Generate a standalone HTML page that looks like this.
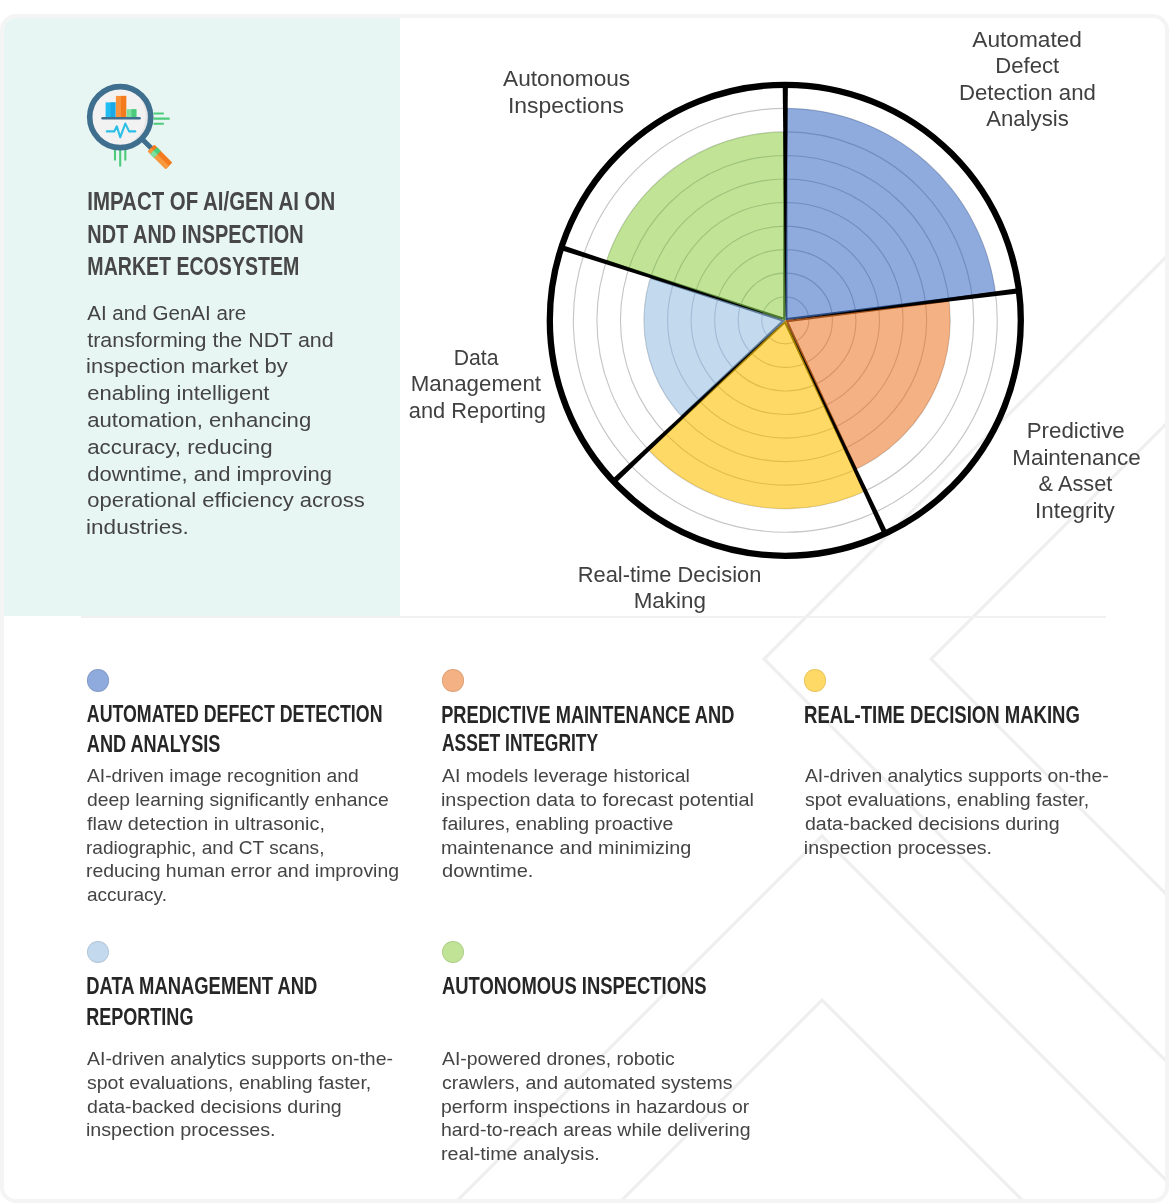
<!DOCTYPE html>
<html><head><meta charset="utf-8">
<style>
html,body{margin:0;padding:0;background:#fff;}
body{width:1170px;height:1203px;position:relative;overflow:hidden;font-family:"Liberation Sans",sans-serif;}
.card{position:absolute;left:0;top:14px;width:1161px;height:1181px;border:4px solid #f4f4f4;border-radius:16px;overflow:hidden;}
.teal{position:absolute;left:0;top:0;width:396px;height:598px;background:#e8f6f3;}
.sep{position:absolute;left:81px;top:616.3px;width:1025px;height:2.2px;background:#f1f1f1;}
.abs{position:absolute;white-space:nowrap;}
.lbl{position:absolute;color:#404040;font-size:21px;line-height:27px;text-align:center;white-space:nowrap;}
.title{position:absolute;left:87px;top:186px;color:#444;font-weight:bold;font-size:23px;line-height:33px;white-space:nowrap;}
.intro{position:absolute;left:87px;top:300px;color:#444;font-size:19.5px;line-height:26.9px;white-space:nowrap;}
.dot{position:absolute;width:22.4px;height:22.4px;border-radius:50%;box-shadow:inset 0 0 0 0.9px rgba(0,0,0,0.09);}
.h{position:absolute;color:#262626;font-weight:bold;font-size:21px;line-height:29.8px;white-space:nowrap;}
.b{position:absolute;color:#444;font-size:17px;line-height:23.9px;white-space:nowrap;}
</style></head><body>
<div class="card">
  <div class="teal"></div>
</div>
<svg width="1170" height="1203" style="position:absolute;left:0;top:0">
  <defs><clipPath id="cc"><rect x="4" y="18" width="1161" height="1181" rx="12"/></clipPath></defs>
  <g clip-path="url(#cc)" fill="none" stroke="#efefef" stroke-width="3.2">
    <polyline points="1170,253 764,659 1170,1065"/>
    <polyline points="1170,420 931,659 1170,898"/>
    <polyline points="450,1208 822,836 1194,1208"/>
    <polyline points="614,1208 822,1000 1030,1208"/>
  </g>
</svg>
<div class="sep"></div>
<svg width="1170" height="1203" viewBox="0 0 1170 1203" style="position:absolute;left:0;top:0">
<defs>
<clipPath id="w0"><path d="M785.30,320.30 L995.58,293.74 A211.95,211.95 0 0 0 785.30,108.35 Z"/></clipPath>
<clipPath id="w1"><path d="M785.30,320.30 L855.23,469.58 A164.85,164.85 0 0 0 948.85,299.64 Z"/></clipPath>
<clipPath id="w2"><path d="M785.30,320.30 L647.96,449.27 A188.40,188.40 0 0 0 865.22,490.91 Z"/></clipPath>
<clipPath id="w3"><path d="M785.30,320.30 L650.92,276.64 A141.30,141.30 0 0 0 682.30,417.03 Z"/></clipPath>
<clipPath id="w4"><path d="M785.30,320.30 L785.30,131.90 A188.40,188.40 0 0 0 606.12,262.08 Z"/></clipPath>
</defs>
<circle cx="785.3" cy="320.3" r="23.55" fill="none" stroke="#c6c6c6" stroke-width="1.15"/>
<circle cx="785.3" cy="320.3" r="47.10" fill="none" stroke="#c6c6c6" stroke-width="1.15"/>
<circle cx="785.3" cy="320.3" r="70.65" fill="none" stroke="#c6c6c6" stroke-width="1.15"/>
<circle cx="785.3" cy="320.3" r="94.20" fill="none" stroke="#c6c6c6" stroke-width="1.15"/>
<circle cx="785.3" cy="320.3" r="117.75" fill="none" stroke="#c6c6c6" stroke-width="1.15"/>
<circle cx="785.3" cy="320.3" r="141.30" fill="none" stroke="#c6c6c6" stroke-width="1.15"/>
<circle cx="785.3" cy="320.3" r="164.85" fill="none" stroke="#c6c6c6" stroke-width="1.15"/>
<circle cx="785.3" cy="320.3" r="188.40" fill="none" stroke="#c6c6c6" stroke-width="1.15"/>
<circle cx="785.3" cy="320.3" r="211.95" fill="none" stroke="#c6c6c6" stroke-width="1.15"/>
<path d="M785.30,320.30 L995.58,293.74 A211.95,211.95 0 0 0 785.30,108.35 Z" fill="#8faadc"/>
<g clip-path="url(#w0)">
<circle cx="785.3" cy="320.3" r="23.55" fill="none" stroke="#6f8dc2" stroke-width="1.15"/>
<circle cx="785.3" cy="320.3" r="47.10" fill="none" stroke="#6f8dc2" stroke-width="1.15"/>
<circle cx="785.3" cy="320.3" r="70.65" fill="none" stroke="#6f8dc2" stroke-width="1.15"/>
<circle cx="785.3" cy="320.3" r="94.20" fill="none" stroke="#6f8dc2" stroke-width="1.15"/>
<circle cx="785.3" cy="320.3" r="117.75" fill="none" stroke="#6f8dc2" stroke-width="1.15"/>
<circle cx="785.3" cy="320.3" r="141.30" fill="none" stroke="#6f8dc2" stroke-width="1.15"/>
<circle cx="785.3" cy="320.3" r="164.85" fill="none" stroke="#6f8dc2" stroke-width="1.15"/>
<circle cx="785.3" cy="320.3" r="188.40" fill="none" stroke="#6f8dc2" stroke-width="1.15"/>
<circle cx="785.3" cy="320.3" r="211.95" fill="none" stroke="#6f8dc2" stroke-width="1.15"/>
<path d="M995.58,293.74 L785.30,320.30 L785.30,108.35" fill="none" stroke="#2b4c86" stroke-width="4.2"/>
</g>
<path d="M785.30,320.30 L855.23,469.58 A164.85,164.85 0 0 0 948.85,299.64 Z" fill="#f4b183"/>
<g clip-path="url(#w1)">
<circle cx="785.3" cy="320.3" r="23.55" fill="none" stroke="#d8956a" stroke-width="1.15"/>
<circle cx="785.3" cy="320.3" r="47.10" fill="none" stroke="#d8956a" stroke-width="1.15"/>
<circle cx="785.3" cy="320.3" r="70.65" fill="none" stroke="#d8956a" stroke-width="1.15"/>
<circle cx="785.3" cy="320.3" r="94.20" fill="none" stroke="#d8956a" stroke-width="1.15"/>
<circle cx="785.3" cy="320.3" r="117.75" fill="none" stroke="#d8956a" stroke-width="1.15"/>
<circle cx="785.3" cy="320.3" r="141.30" fill="none" stroke="#d8956a" stroke-width="1.15"/>
<circle cx="785.3" cy="320.3" r="164.85" fill="none" stroke="#d8956a" stroke-width="1.15"/>
<path d="M855.23,469.58 L785.30,320.30 L948.85,299.64" fill="none" stroke="#a5531c" stroke-width="4.2"/>
</g>
<path d="M785.30,320.30 L647.96,449.27 A188.40,188.40 0 0 0 865.22,490.91 Z" fill="#ffd966"/>
<g clip-path="url(#w2)">
<circle cx="785.3" cy="320.3" r="23.55" fill="none" stroke="#e0bd4c" stroke-width="1.15"/>
<circle cx="785.3" cy="320.3" r="47.10" fill="none" stroke="#e0bd4c" stroke-width="1.15"/>
<circle cx="785.3" cy="320.3" r="70.65" fill="none" stroke="#e0bd4c" stroke-width="1.15"/>
<circle cx="785.3" cy="320.3" r="94.20" fill="none" stroke="#e0bd4c" stroke-width="1.15"/>
<circle cx="785.3" cy="320.3" r="117.75" fill="none" stroke="#e0bd4c" stroke-width="1.15"/>
<circle cx="785.3" cy="320.3" r="141.30" fill="none" stroke="#e0bd4c" stroke-width="1.15"/>
<circle cx="785.3" cy="320.3" r="164.85" fill="none" stroke="#e0bd4c" stroke-width="1.15"/>
<circle cx="785.3" cy="320.3" r="188.40" fill="none" stroke="#e0bd4c" stroke-width="1.15"/>
<path d="M647.96,449.27 L785.30,320.30 L865.22,490.91" fill="none" stroke="#a88300" stroke-width="4.2"/>
</g>
<path d="M785.30,320.30 L650.92,276.64 A141.30,141.30 0 0 0 682.30,417.03 Z" fill="#c3d9ee"/>
<g clip-path="url(#w3)">
<circle cx="785.3" cy="320.3" r="23.55" fill="none" stroke="#a3bcd6" stroke-width="1.15"/>
<circle cx="785.3" cy="320.3" r="47.10" fill="none" stroke="#a3bcd6" stroke-width="1.15"/>
<circle cx="785.3" cy="320.3" r="70.65" fill="none" stroke="#a3bcd6" stroke-width="1.15"/>
<circle cx="785.3" cy="320.3" r="94.20" fill="none" stroke="#a3bcd6" stroke-width="1.15"/>
<circle cx="785.3" cy="320.3" r="117.75" fill="none" stroke="#a3bcd6" stroke-width="1.15"/>
<circle cx="785.3" cy="320.3" r="141.30" fill="none" stroke="#a3bcd6" stroke-width="1.15"/>
<path d="M650.92,276.64 L785.30,320.30 L682.30,417.03" fill="none" stroke="#5f7f9c" stroke-width="4.2"/>
</g>
<path d="M785.30,320.30 L785.30,131.90 A188.40,188.40 0 0 0 606.12,262.08 Z" fill="#c0e396"/>
<g clip-path="url(#w4)">
<circle cx="785.3" cy="320.3" r="23.55" fill="none" stroke="#9dc47a" stroke-width="1.15"/>
<circle cx="785.3" cy="320.3" r="47.10" fill="none" stroke="#9dc47a" stroke-width="1.15"/>
<circle cx="785.3" cy="320.3" r="70.65" fill="none" stroke="#9dc47a" stroke-width="1.15"/>
<circle cx="785.3" cy="320.3" r="94.20" fill="none" stroke="#9dc47a" stroke-width="1.15"/>
<circle cx="785.3" cy="320.3" r="117.75" fill="none" stroke="#9dc47a" stroke-width="1.15"/>
<circle cx="785.3" cy="320.3" r="141.30" fill="none" stroke="#9dc47a" stroke-width="1.15"/>
<circle cx="785.3" cy="320.3" r="164.85" fill="none" stroke="#9dc47a" stroke-width="1.15"/>
<circle cx="785.3" cy="320.3" r="188.40" fill="none" stroke="#9dc47a" stroke-width="1.15"/>
<path d="M785.30,131.90 L785.30,320.30 L606.12,262.08" fill="none" stroke="#4f7f2e" stroke-width="4.2"/>
</g>
<polygon points="785.40,316.30 787.90,84.80 782.70,84.80 785.20,316.30" fill="#000"/>
<polygon points="789.28,319.90 1019.27,293.36 1018.62,288.20 789.26,319.70" fill="#000"/>
<polygon points="786.91,323.96 882.84,534.66 887.55,532.46 787.09,323.88" fill="#000"/>
<polygon points="782.32,322.97 611.85,479.62 615.41,483.41 782.45,323.11" fill="#000"/>
<polygon points="781.53,318.97 562.13,245.05 560.52,250.00 781.46,319.16" fill="#000"/>
<circle cx="785.3" cy="320.3" r="235.50" fill="none" stroke="#000" stroke-width="6.3"/>
</svg>
<svg width="1170" height="1203" style="position:absolute;left:0;top:0">
<g transform="translate(80,75)">
 <g transform="rotate(45 40.2 42.1)">
  <rect x="70" y="39.6" width="15" height="5" fill="#3f6f8e"/>
  <rect x="83.8" y="37.35" width="25.5" height="9.5" rx="1" fill="#f47a1e"/>
  <rect x="83.8" y="42.1" width="25.5" height="4.75" rx="1" fill="#f9993f"/>
  <rect x="87.6" y="37.35" width="5.2" height="9.5" fill="#45cf7e"/>
  <rect x="87.6" y="42.1" width="5.2" height="4.75" fill="#7fe09f"/>
 </g>
 <g stroke="#4ccb7c" stroke-width="2.1" stroke-linecap="butt" fill="none">
  <path d="M73.5 38.5H83.8M73.5 43.6H89.7M73.5 48.7H83.8"/>
  <path d="M35 74V85.5M40.2 74V91.5M45.3 74V85.5"/>
 </g>
 <circle cx="40.2" cy="42.1" r="28.5" fill="#f2f2f2"/>
 <path d="M58 21 A27.7 27.7 0 0 1 47 69 A30 30 0 0 0 58 21Z" fill="#e4e4e4"/>
 <circle cx="40.2" cy="42.1" r="30.5" fill="none" stroke="#3f6f8e" stroke-width="5.6"/>
 <rect x="25.6" y="27.4" width="9.9" height="14.9" fill="#22bdf2"/>
 <rect x="30.5" y="27.4" width="5" height="14.9" fill="#1aa9e6"/>
 <rect x="35.9" y="20.9" width="10.3" height="21.4" fill="#f9923a"/>
 <rect x="41" y="20.9" width="5.2" height="21.4" fill="#f47a1e"/>
 <rect x="46.6" y="34.2" width="9.8" height="8.1" fill="#7ee09e"/>
 <rect x="51.5" y="34.2" width="4.9" height="8.1" fill="#4ccb7c"/>
 <path d="M22.6 43.3H59.5" stroke="#3f6f8e" stroke-width="2.6" stroke-linecap="round"/>
 <polyline points="26.8,56.4 34.2,56.4 36.8,51.3 40.2,62.3 45.3,48.6 49.1,56.4 55.3,56.4" fill="none" stroke="#2bbfe8" stroke-width="2.1" stroke-linecap="round" stroke-linejoin="round"/>
</g>
</svg>

<svg width="1170" height="1203" style="position:absolute;left:0;top:0;will-change:transform" font-family="'Liberation Sans', sans-serif">
<text transform="translate(87.31,210.00) scale(0.7863,1)" font-size="26" font-weight="bold" fill="#474747">IMPACT OF AI/GEN AI ON</text>
<text transform="translate(87.33,242.80) scale(0.7670,1)" font-size="26" font-weight="bold" fill="#474747">NDT AND INSPECTION</text>
<text transform="translate(87.35,275.30) scale(0.7526,1)" font-size="26" font-weight="bold" fill="#474747">MARKET ECOSYSTEM</text>
<text transform="translate(87.20,319.90) scale(1.0558,1)" font-size="19.5" fill="#444444">AI and GenAI are</text>
<text transform="translate(87.20,346.50) scale(1.1011,1)" font-size="19.5" fill="#444444">transforming the NDT and</text>
<text transform="translate(86.07,373.20) scale(1.1287,1)" font-size="19.5" fill="#444444">inspection market by</text>
<text transform="translate(87.20,399.80) scale(1.1294,1)" font-size="19.5" fill="#444444">enabling intelligent</text>
<text transform="translate(87.20,427.40) scale(1.1355,1)" font-size="19.5" fill="#444444">automation, enhancing</text>
<text transform="translate(87.20,454.10) scale(1.1439,1)" font-size="19.5" fill="#444444">accuracy, reducing</text>
<text transform="translate(87.20,481.30) scale(1.1305,1)" font-size="19.5" fill="#444444">downtime, and improving</text>
<text transform="translate(87.20,507.40) scale(1.1299,1)" font-size="19.5" fill="#444444">operational efficiency across</text>
<text transform="translate(86.04,534.40) scale(1.1567,1)" font-size="19.5" fill="#444444">industries.</text>
<text transform="translate(972.30,46.50) scale(1.0083,1)" font-size="22.5" fill="#404040">Automated</text>
<text transform="translate(995.22,73.00) scale(0.9849,1)" font-size="22.5" fill="#404040">Defect</text>
<text transform="translate(959.01,99.70) scale(0.9859,1)" font-size="22.5" fill="#404040">Detection and</text>
<text transform="translate(986.20,126.20) scale(0.9853,1)" font-size="22.5" fill="#404040">Analysis</text>
<text transform="translate(503.10,85.80) scale(1.0065,1)" font-size="22.5" fill="#404040">Autonomous</text>
<text transform="translate(507.96,112.70) scale(1.0200,1)" font-size="22.5" fill="#404040">Inspections</text>
<text transform="translate(453.66,364.80) scale(0.9423,1)" font-size="22.5" fill="#404040">Data</text>
<text transform="translate(410.71,391.00) scale(0.9925,1)" font-size="22.5" fill="#404040">Management</text>
<text transform="translate(408.80,417.80) scale(0.9699,1)" font-size="22.5" fill="#404040">and Reporting</text>
<text transform="translate(1026.71,437.60) scale(0.9931,1)" font-size="22.5" fill="#404040">Predictive</text>
<text transform="translate(1012.20,464.50) scale(0.9982,1)" font-size="22.5" fill="#404040">Maintenance</text>
<text transform="translate(1038.60,491.40) scale(0.9658,1)" font-size="22.5" fill="#404040">&amp; Asset</text>
<text transform="translate(1035.11,518.30) scale(0.9964,1)" font-size="22.5" fill="#404040">Integrity</text>
<text transform="translate(577.73,581.90) scale(0.9728,1)" font-size="22.5" fill="#404040">Real-time Decision</text>
<text transform="translate(633.70,608.10) scale(0.9969,1)" font-size="22.5" fill="#404040">Making</text>
<text transform="translate(86.80,722.40) scale(0.7736,1)" font-size="23" font-weight="bold" fill="#262626">AUTOMATED DEFECT DETECTION</text>
<text transform="translate(86.80,752.20) scale(0.7885,1)" font-size="23" font-weight="bold" fill="#262626">AND ANALYSIS</text>
<text transform="translate(441.21,722.60) scale(0.7930,1)" font-size="23" font-weight="bold" fill="#262626">PREDICTIVE MAINTENANCE AND</text>
<text transform="translate(442.00,751.40) scale(0.7595,1)" font-size="23" font-weight="bold" fill="#262626">ASSET INTEGRITY</text>
<text transform="translate(804.09,722.60) scale(0.8058,1)" font-size="23" font-weight="bold" fill="#262626">REAL-TIME DECISION MAKING</text>
<text transform="translate(86.20,994.40) scale(0.8011,1)" font-size="23" font-weight="bold" fill="#262626">DATA MANAGEMENT AND</text>
<text transform="translate(86.22,1024.60) scale(0.7846,1)" font-size="23" font-weight="bold" fill="#262626">REPORTING</text>
<text transform="translate(442.00,994.40) scale(0.8007,1)" font-size="23" font-weight="bold" fill="#262626">AUTONOMOUS INSPECTIONS</text>
<text transform="translate(87.00,782.00) scale(1.0702,1)" font-size="18" fill="#444444">AI-driven image recognition and</text>
<text transform="translate(87.00,805.85) scale(1.0737,1)" font-size="18" fill="#444444">deep learning significantly enhance</text>
<text transform="translate(87.00,829.70) scale(1.1017,1)" font-size="18" fill="#444444">flaw detection in ultrasonic,</text>
<text transform="translate(85.94,853.55) scale(1.0622,1)" font-size="18" fill="#444444">radiographic, and CT scans,</text>
<text transform="translate(85.92,877.40) scale(1.0800,1)" font-size="18" fill="#444444">reducing human error and improving</text>
<text transform="translate(87.00,901.25) scale(1.0577,1)" font-size="18" fill="#444444">accuracy.</text>
<text transform="translate(442.00,782.00) scale(1.0777,1)" font-size="18" fill="#444444">AI models leverage historical</text>
<text transform="translate(440.89,805.85) scale(1.1067,1)" font-size="18" fill="#444444">inspection data to forecast potential</text>
<text transform="translate(442.00,829.70) scale(1.0807,1)" font-size="18" fill="#444444">failures, enabling proactive</text>
<text transform="translate(440.90,853.55) scale(1.0981,1)" font-size="18" fill="#444444">maintenance and minimizing</text>
<text transform="translate(442.00,877.40) scale(1.1143,1)" font-size="18" fill="#444444">downtime.</text>
<text transform="translate(804.90,782.00) scale(1.0740,1)" font-size="18" fill="#444444">AI-driven analytics supports on-the-</text>
<text transform="translate(804.90,805.85) scale(1.0855,1)" font-size="18" fill="#444444">spot evaluations, enabling faster,</text>
<text transform="translate(804.90,829.70) scale(1.0886,1)" font-size="18" fill="#444444">data-backed decisions during</text>
<text transform="translate(803.81,853.55) scale(1.0883,1)" font-size="18" fill="#444444">inspection processes.</text>
<text transform="translate(87.00,1064.80) scale(1.0811,1)" font-size="18" fill="#444444">AI-driven analytics supports on-the-</text>
<text transform="translate(87.00,1088.65) scale(1.0855,1)" font-size="18" fill="#444444">spot evaluations, enabling faster,</text>
<text transform="translate(87.00,1112.50) scale(1.0891,1)" font-size="18" fill="#444444">data-backed decisions during</text>
<text transform="translate(85.90,1136.35) scale(1.0965,1)" font-size="18" fill="#444444">inspection processes.</text>
<text transform="translate(442.00,1064.80) scale(1.0772,1)" font-size="18" fill="#444444">AI-powered drones, robotic</text>
<text transform="translate(442.00,1088.65) scale(1.0839,1)" font-size="18" fill="#444444">crawlers, and automated systems</text>
<text transform="translate(440.92,1112.50) scale(1.0784,1)" font-size="18" fill="#444444">perform inspections in hazardous or</text>
<text transform="translate(440.92,1136.35) scale(1.0822,1)" font-size="18" fill="#444444">hard-to-reach areas while delivering</text>
<text transform="translate(440.91,1160.20) scale(1.0948,1)" font-size="18" fill="#444444">real-time analysis.</text>
</svg>
<div class="dot" style="left:87px;top:669.2px;background:#8faadc"></div>
<div class="dot" style="left:442px;top:669.2px;background:#f4b183"></div>
<div class="dot" style="left:804px;top:669.2px;background:#ffd966"></div>
<div class="dot" style="left:87px;top:940.9px;background:#c3d9ee"></div>
<div class="dot" style="left:442px;top:940.9px;background:#c0e396"></div>
</body></html>
